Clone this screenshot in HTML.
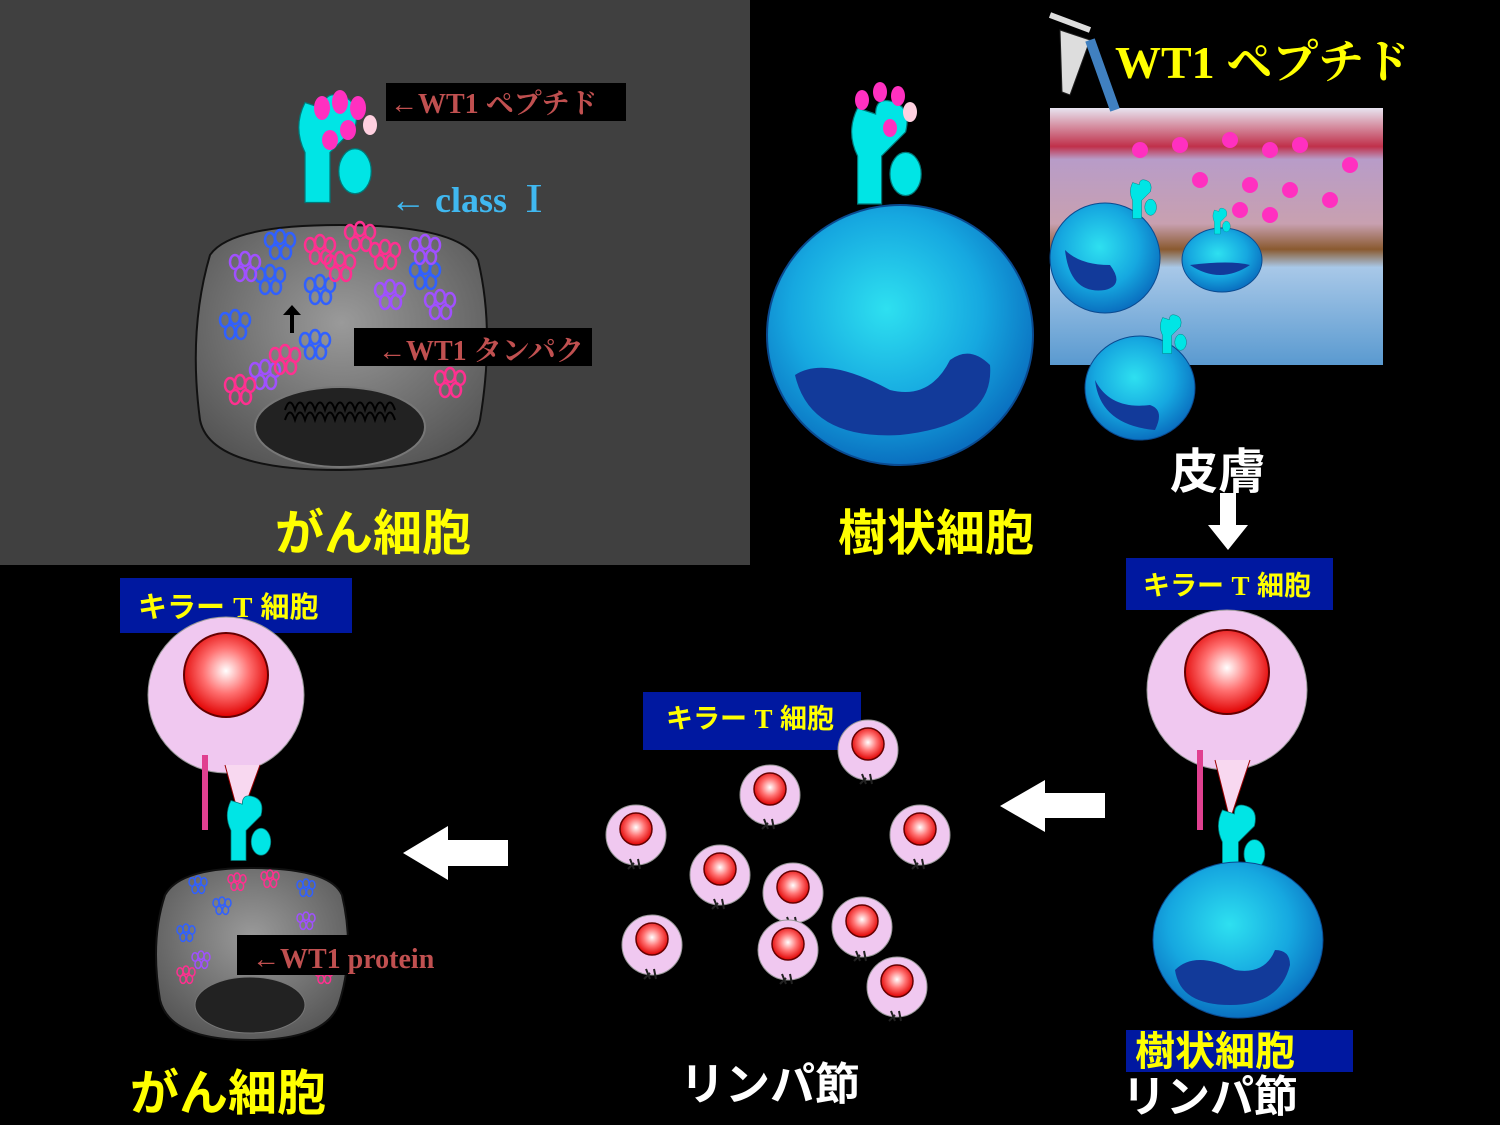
<!DOCTYPE html>
<html><head><meta charset="utf-8"><style>
html,body{margin:0;padding:0;background:#000;}
svg{display:block}
text{font-family:"Liberation Sans","Noto Sans CJK JP",sans-serif;}
.serif{font-family:"Liberation Serif","Noto Serif CJK SC","Noto Sans CJK JP",serif;}
</style></head><body>
<svg width="1500" height="1125" viewBox="0 0 1500 1125" xmlns="http://www.w3.org/2000/svg">
<defs>
<radialGradient id="bl" cx="45%" cy="40%" r="60%"><stop offset="0" stop-color="#2ee0f0"/><stop offset="0.6" stop-color="#16a8e0"/><stop offset="1" stop-color="#0a70c0"/></radialGradient>
<radialGradient id="gr" cx="50%" cy="40%" r="65%"><stop offset="0" stop-color="#9a9a9a"/><stop offset="1" stop-color="#555"/></radialGradient>
<radialGradient id="rd" cx="50%" cy="45%" r="55%"><stop offset="0" stop-color="#fff"/><stop offset="0.5" stop-color="#ff7070"/><stop offset="1" stop-color="#e00000"/></radialGradient>
<linearGradient id="sk" x1="0" y1="0" x2="0" y2="1"><stop offset="0" stop-color="#e8e4f0"/><stop offset="0.15" stop-color="#c0304a"/><stop offset="0.2" stop-color="#b89cc8"/><stop offset="0.45" stop-color="#c8a0b0"/><stop offset="0.55" stop-color="#8a5a30"/><stop offset="0.62" stop-color="#a8c8e8"/><stop offset="1" stop-color="#5a9ad0"/></linearGradient>
<g id="tc"><circle cx="0" cy="0" r="30" fill="#f0c8f0" stroke="#999" stroke-width="1"/><circle cx="0" cy="-6" r="16" fill="url(#rd)" stroke="#600" stroke-width="1.5"/><path d="M-6 24 l4 10 M2 24 l2 10 M-2 28 l-6 6" stroke="#222" stroke-width="2"/></g>
<g id="mhc"><path d="M-12 -50 q-10 20 0 40 l0 40 l20 0 l0 -40 q10 -10 20 -20 q5 -20 -10 -25 q-15 -5 -15 10 z" fill="#00e5e5" stroke="#077" stroke-width="1"/><ellipse cx="28" cy="5" rx="13" ry="18" fill="#00e5e5" stroke="#077"/></g>
<g id="cl1" fill="none" stroke-width="2.5"><ellipse cx="0" cy="0" rx="5" ry="7"/><ellipse cx="10" cy="-3" rx="5" ry="7"/><ellipse cx="20" cy="0" rx="5" ry="7"/><ellipse cx="5" cy="12" rx="5" ry="7"/><ellipse cx="16" cy="12" rx="5" ry="7"/></g>
</defs>
<rect width="1500" height="1125" fill="#000"/>
<rect x="0" y="0" width="750" height="565" fill="#404040"/>

<!-- top-left cancer cell -->
<path d="M210 255 Q230 225 340 225 Q460 225 478 260 Q495 330 480 420 Q470 468 340 470 Q210 470 200 420 Q188 330 210 255Z" fill="url(#gr)" stroke="#111" stroke-width="2"/>
<ellipse cx="340" cy="427" rx="85" ry="40" fill="#222" stroke="#777" stroke-width="2"/>
<path d="M285 410 q5 -15 10 0 q5 -15 10 0 q5 -15 10 0 q5 -15 10 0 q5 -15 10 0 q5 -15 10 0 q5 -15 10 0 q5 -15 10 0 q5 -15 10 0 q5 -15 10 0 q5 -15 10 0 M285 420 q5 -15 10 0 q5 -15 10 0 q5 -15 10 0 q5 -15 10 0 q5 -15 10 0 q5 -15 10 0 q5 -15 10 0 q5 -15 10 0 q5 -15 10 0 q5 -15 10 0 q5 -15 10 0" stroke="#000" stroke-width="2" fill="none"/>
<g stroke="#3060ff"><use href="#cl1" x="270" y="240"/><use href="#cl1" x="260" y="275"/><use href="#cl1" x="310" y="285"/><use href="#cl1" x="225" y="320"/><use href="#cl1" x="305" y="340"/><use href="#cl1" x="415" y="270"/></g>
<g stroke="#a050ff"><use href="#cl1" x="235" y="262"/><use href="#cl1" x="380" y="290"/><use href="#cl1" x="415" y="245"/><use href="#cl1" x="430" y="300"/><use href="#cl1" x="255" y="370"/></g>
<g stroke="#ff3090"><use href="#cl1" x="310" y="245"/><use href="#cl1" x="350" y="232"/><use href="#cl1" x="330" y="262"/><use href="#cl1" x="230" y="385"/><use href="#cl1" x="275" y="355"/><use href="#cl1" x="440" y="378"/><use href="#cl1" x="375" y="250"/></g>
<path d="M290 333 v-18 h-7 l9 -10 l9 10 h-7 v18z" fill="#000"/>
<g transform="translate(320,165) scale(1.25)"><use href="#mhc"/></g>
<g fill="#ff30c0"><ellipse cx="322" cy="108" rx="8" ry="12"/><ellipse cx="340" cy="102" rx="8" ry="12"/><ellipse cx="358" cy="108" rx="8" ry="12"/><ellipse cx="370" cy="125" rx="7" ry="10" fill="#ffd0e0"/><ellipse cx="348" cy="130" rx="8" ry="10"/><ellipse cx="330" cy="140" rx="8" ry="10"/></g>
<rect x="386" y="83" width="240" height="38" fill="#000"/>
<text x="390" y="113" class="serif" font-size="28" font-weight="bold" fill="#c05050">←WT1 ペプチド</text>
<text x="390" y="212" class="serif" font-size="36" font-weight="bold" fill="#40b8f0">← class Ⅰ</text>
<rect x="354" y="328" width="238" height="38" fill="#000"/>
<text x="378" y="360" class="serif" font-size="28" font-weight="bold" fill="#c05050">←WT1 タンパク</text>
<text x="275" y="550" font-size="49" font-weight="bold" fill="#ffff00">がん細胞</text>

<!-- dendritic cell top -->
<ellipse cx="900" cy="335" rx="133" ry="130" fill="url(#bl)" stroke="#0a4a90" stroke-width="2"/>
<path d="M795 375 q30 -20 95 15 q40 10 60 -30 q20 -15 40 5 q5 60 -90 70 q-90 5 -105 -60z" fill="#123a9a"/>
<g transform="translate(872,168) scale(1.2)"><use href="#mhc"/></g>
<g fill="#ff30c0"><ellipse cx="862" cy="100" rx="7" ry="10"/><ellipse cx="880" cy="92" rx="7" ry="10"/><ellipse cx="898" cy="96" rx="7" ry="10"/><ellipse cx="910" cy="112" rx="7" ry="10" fill="#ffd0e0"/><ellipse cx="890" cy="128" rx="7" ry="9"/></g>
<text x="838" y="550" font-size="49" font-weight="bold" fill="#ffff00">樹状細胞</text>

<!-- skin -->
<rect x="1050" y="108" width="333" height="257" fill="url(#sk)"/>
<g fill="#ff30c0"><circle cx="1140" cy="150" r="8"/><circle cx="1180" cy="145" r="8"/><circle cx="1230" cy="140" r="8"/><circle cx="1270" cy="150" r="8"/><circle cx="1300" cy="145" r="8"/><circle cx="1350" cy="165" r="8"/><circle cx="1200" cy="180" r="8"/><circle cx="1250" cy="185" r="8"/><circle cx="1290" cy="190" r="8"/><circle cx="1330" cy="200" r="8"/><circle cx="1270" cy="215" r="8"/><circle cx="1240" cy="210" r="8"/></g>
<ellipse cx="1105" cy="258" rx="55" ry="55" fill="url(#bl)" stroke="#0a4a90"/>
<path d="M1065 250 q5 45 40 40 q20 -5 5 -25 q-30 0 -45 -15z" fill="#123a9a"/>
<ellipse cx="1222" cy="260" rx="40" ry="32" fill="url(#bl)" stroke="#0a4a90"/>
<path d="M1190 265 q30 20 60 0 q-20 -5 -60 0z" fill="#123a9a"/>
<ellipse cx="1140" cy="388" rx="55" ry="52" fill="url(#bl)" stroke="#0a4a90"/>
<path d="M1095 380 q5 45 60 50 q10 -20 -5 -25 q-40 5 -55 -25z" fill="#123a9a"/>
<g transform="translate(1138,205) scale(0.45)"><use href="#mhc"/></g>
<g transform="translate(1168,340) scale(0.45)"><use href="#mhc"/></g>
<g transform="translate(1218,225) scale(0.3)"><use href="#mhc"/></g>
<path d="M1060 30 l30 10 l-20 55 l-8 -3z" fill="#ddd" stroke="#222"/>
<path d="M1090 40 l25 70" stroke="#4080c0" stroke-width="10"/>
<path d="M1050 15 l40 15" stroke="#ddd" stroke-width="6"/>
<text x="1115" y="78" class="serif" font-size="46" font-weight="bold" fill="#ffff00">WT1 ペプチド</text>
<text x="1170" y="488" font-size="48" font-weight="bold" fill="#fff">皮膚</text>
<path d="M1220 493 h16 v32 h12 l-20 25 l-20 -25 h12z" fill="#fff"/>

<!-- killer T right -->
<rect x="1126" y="558" width="207" height="52" fill="#0018a0"/>
<text x="1143" y="595" font-size="27" font-weight="bold" fill="#ffff00">キラー <tspan class="serif">T</tspan> 細胞</text>
<circle cx="1227" cy="690" r="80" fill="#f0c8f0" stroke="#999"/>
<circle cx="1227" cy="672" r="42" fill="url(#rd)" stroke="#600" stroke-width="2"/>
<path d="M1200 750 v80" stroke="#e04090" stroke-width="6"/>
<path d="M1215 760 l15 60 l20 -60" fill="#f8d8f0" stroke="#900"/>
<g transform="translate(1232,850) scale(0.8)"><use href="#mhc"/></g>
<ellipse cx="1238" cy="940" rx="85" ry="78" fill="url(#bl)" stroke="#0a4a90"/>
<path d="M1175 970 q20 -20 60 0 q30 5 40 -20 q15 0 15 15 q-10 40 -60 40 q-50 0 -55 -35z" fill="#123a9a"/>
<rect x="1126" y="1030" width="227" height="42" fill="#0018a0"/>
<text x="1135" y="1065" font-size="40" font-weight="bold" fill="#ffff00">樹状細胞</text>
<text x="1122" y="1112" font-size="44" font-weight="bold" fill="#fff">リンパ節</text>
<path d="M1105 793 v25 h-60 v14 l-45 -26 l45 -26 v13z" fill="#fff"/>

<!-- lymph node T cells -->
<rect x="643" y="692" width="218" height="58" fill="#0018a0"/>
<text x="666" y="728" font-size="27" font-weight="bold" fill="#ffff00">キラー <tspan class="serif">T</tspan> 細胞</text>
<use href="#tc" x="868" y="750"/><use href="#tc" x="770" y="795"/><use href="#tc" x="920" y="835"/>
<use href="#tc" x="636" y="835"/><use href="#tc" x="720" y="875"/><use href="#tc" x="793" y="893"/>
<use href="#tc" x="862" y="927"/><use href="#tc" x="652" y="945"/><use href="#tc" x="788" y="950"/><use href="#tc" x="897" y="987"/>
<text x="680" y="1100" font-size="45" font-weight="bold" fill="#fff">リンパ節</text>
<path d="M508 840 v26 h-60 v14 l-45 -27 l45 -27 v14z" fill="#fff"/>

<!-- bottom-left -->
<rect x="120" y="578" width="232" height="55" fill="#0018a0"/>
<text x="138" y="617" font-size="29" font-weight="bold" fill="#ffff00">キラー <tspan class="serif">T</tspan> 細胞</text>
<circle cx="226" cy="695" r="78" fill="#f0c8f0" stroke="#999"/>
<circle cx="226" cy="675" r="42" fill="url(#rd)" stroke="#600" stroke-width="2"/>
<path d="M205 755 v75" stroke="#e04090" stroke-width="6"/>
<path d="M225 765 l15 55 l20 -55" fill="#f8d8f0" stroke="#900"/>
<g transform="translate(240,838) scale(0.75)"><use href="#mhc"/></g>
<path d="M165 895 Q180 868 250 868 Q330 868 342 895 Q355 950 340 1000 Q330 1040 250 1040 Q170 1040 160 1000 Q150 940 165 895Z" fill="url(#gr)" stroke="#111" stroke-width="2"/>
<ellipse cx="250" cy="1005" rx="55" ry="28" fill="#222" stroke="#777"/>
<g transform="scale(0.6)" >
<g stroke="#3060ff"><use href="#cl1" x="320" y="1470"/><use href="#cl1" x="360" y="1505"/><use href="#cl1" x="300" y="1550"/><use href="#cl1" x="500" y="1475"/></g>
<g stroke="#ff3090"><use href="#cl1" x="385" y="1465"/><use href="#cl1" x="440" y="1460"/><use href="#cl1" x="300" y="1620"/><use href="#cl1" x="530" y="1620"/></g>
<g stroke="#a050ff"><use href="#cl1" x="500" y="1530"/><use href="#cl1" x="325" y="1595"/></g>
</g>
<rect x="237" y="935" width="235" height="40" fill="#000"/>
<text x="252" y="968" class="serif" font-size="28" font-weight="bold" fill="#c05050">←WT1 protein</text>
<text x="130" y="1110" font-size="49" font-weight="bold" fill="#ffff00">がん細胞</text>
</svg>
</body></html>
